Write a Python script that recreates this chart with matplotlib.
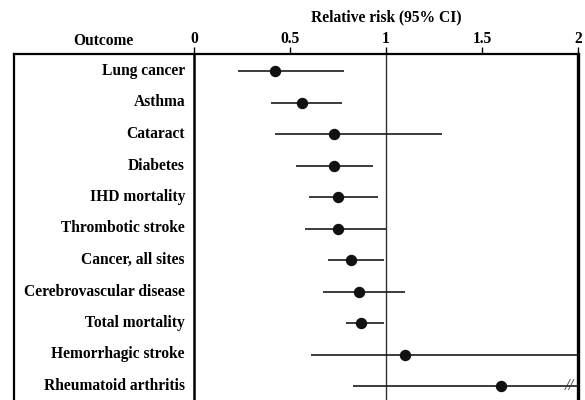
import matplotlib
matplotlib.use("Agg")
import matplotlib.pyplot as plt

outcomes = ["Lung cancer", "Asthma", "Cataract", "Diabetes", "IHD mortality",
            "Thrombotic stroke", "Cancer, all sites", "Cerebrovascular disease",
            "Total mortality", "Hemorrhagic stroke", "Rheumatoid arthritis"]
rr = [0.42, 0.56, 0.73, 0.73, 0.75, 0.75, 0.82, 0.86, 0.87, 1.10, 1.60]
ci_low = [0.23, 0.40, 0.42, 0.53, 0.60, 0.58, 0.70, 0.67, 0.79, 0.61, 0.83]
ci_high = [0.78, 0.77, 1.29, 0.93, 0.96, 1.00, 0.99, 1.10, 0.99, 2.10, 2.20]
tick_vals = [0, 0.5, 1, 1.5, 2]
tick_labels = ["0", "0.5", "1", "1.5", "2"]

plt.rcParams['font.family'] = ['Liberation Serif', 'DejaVu Serif']
plt.rcParams['font.weight'] = 'bold'

FS = 11.2
W, H = 585, 400
fig = plt.figure(figsize=(W / 100, H / 100), dpi=100)
x0_px, x1_px, top_px = 14, 578, 54
ax = fig.add_axes([x0_px / W, 0, (x1_px - x0_px) / W, (H - top_px) / H])

px_per_unit = (578 - 194) / 2.0
xmin = (x0_px - 194) / px_per_unit
ax.set_xlim(xmin, 2.0)
row_h = 31.5
ytop = (top_px - 71) / row_h
ybot = (H - 71) / row_h
ax.set_ylim(ybot, ytop)

ax.spines["bottom"].set_visible(False)
ax.spines["left"].set_linewidth(1.6)
ax.spines["top"].set_linewidth(1.6)
ax.spines["right"].set_linewidth(2.4)

ax.axvline(0, color="black", lw=1.8)
ax.axvline(1, color="#333333", lw=1.0)

for i, name in enumerate(outcomes):
    ax.plot([ci_low[i], ci_high[i]], [i, i], color="#1a1a1a", lw=1.2, solid_capstyle="butt")
    ax.plot(rr[i], i, "o", color="#111111", ms=7.2)
    ax.text(-0.047, i, name, ha="right", va="center", fontsize=FS, fontweight="bold")

# axis break marks on rheumatoid arthritis upper CI
ax.text(1.955, len(outcomes) - 1, "//", ha="center", va="center", fontsize=12,
        fontstyle="italic", fontweight="normal", color="#333333")

ax.xaxis.tick_top()
ax.set_xticks(tick_vals)
ax.set_xticklabels(tick_labels, fontsize=FS, fontweight="bold")
ax.tick_params(axis="x", direction="out", length=5, width=1, pad=0)
ax.set_yticks([])

fig.text(103 / W, 1 - 41 / H, "Outcome", ha="center", va="center",
         fontsize=FS, fontweight="bold")
fig.text(386 / W, 1 - 17 / H, "Relative risk (95% CI)", ha="center", va="center",
         fontsize=FS, fontweight="bold")

fig.savefig("out.png", dpi=100)
